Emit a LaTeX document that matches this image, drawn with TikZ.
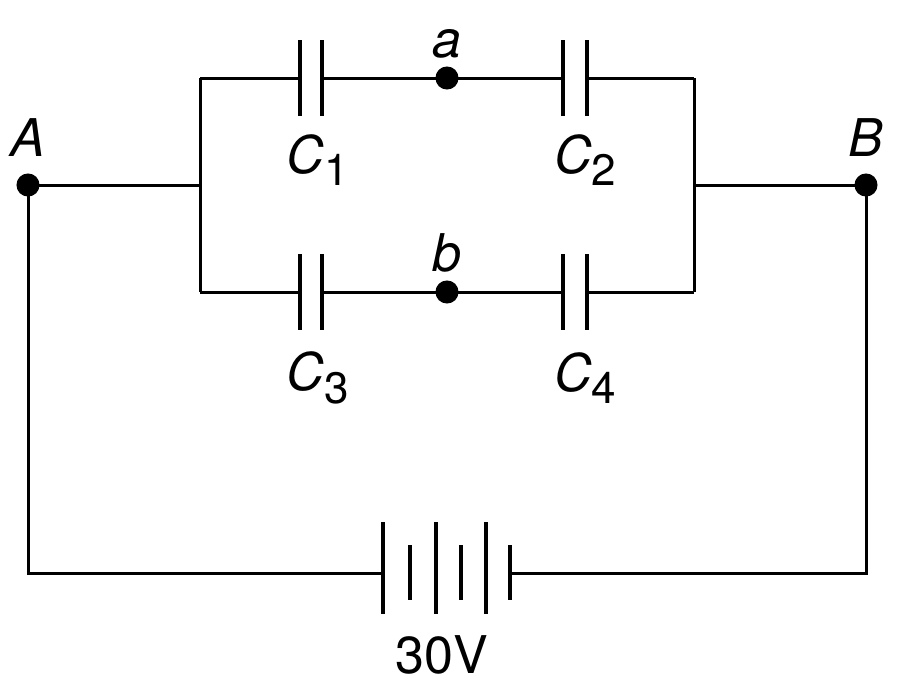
\documentclass[tikz,border=0pt]{standalone}
\usepackage{fontspec}
\setmainfont{TeX Gyre Heros}
\newcommand{\capname}[1]{\textit{C}\raisebox{-0.45ex}{\fontsize{22}{26}\selectfont #1}}
\begin{document}
\begin{tikzpicture}[x=0.5pt,y=-0.5pt,line width=1.5pt,
    plate/.style={line width=2.4pt},
    lbl/.style={font=\fontsize{26}{30}\selectfont}]
            \useasboundingbox (0,0) rectangle (900,686);
            % terminals and corners
            \coordinate (A) at (28,185);
            \coordinate (B) at (866,185);
            \coordinate (L) at (200,185);
            \coordinate (R) at (694,185);
            \coordinate (LT) at (200,78);
            \coordinate (RT) at (694,78);
            \coordinate (LB) at (200,292);
            \coordinate (RB) at (694,292);
            \coordinate (a) at (447,78);
            \coordinate (b) at (447,292);
            \coordinate (AD) at (28,573);
            \coordinate (BD) at (866,573);
            \coordinate (bat1) at (383,573);
            \coordinate (bat2) at (510,573);

            % wires
            \draw (A) -- (L);
            \draw (R) -- (B);
            \draw (LT) -- (LB);
            \draw (RT) -- (RB);
            \draw (LT) -- (300,78);
            \draw (322,78) -- (563,78);
            \draw (587,78) -- (RT);
            \draw (LB) -- (300,292);
            \draw (322,292) -- (563,292);
            \draw (587,292) -- (RB);
            \draw (A) -- (AD) -- (bat1);
            \draw (bat2) -- (BD) -- (B);

            % capacitors
            \foreach \x in {300,322,563,587}{
                \draw[plate] (\x,40) -- (\x,116);
                \draw[plate] (\x,254) -- (\x,330);
            }

            % battery
            \foreach \x in {383,436,486}
                \draw[plate] (\x,522) -- (\x,614);
            \foreach \x in {410,461,510}
                \draw[plate] (\x,545) -- (\x,600);

            \filldraw (A) circle (10) node[lbl,above=10pt]{\textit{A}};
            \filldraw (B) circle (10) node[lbl,above=10pt]{\textit{B}};
            \filldraw (a) circle (10) node[lbl,above=6pt]{\textit{a}};
            \filldraw (b) circle (10) node[lbl,above=6pt]{\textit{b}};

            \node[lbl] (c1) at (318,160) {\capname{1}};
            \node[lbl] (c2) at (585,160) {\capname{2}};
            \node[lbl] (c3) at (318,378) {\capname{3}};
            \node[lbl] (c4) at (585,378) {\capname{4}};
            \node[lbl] (v) at (442,655) {30V};
\end{tikzpicture}
\end{document}
